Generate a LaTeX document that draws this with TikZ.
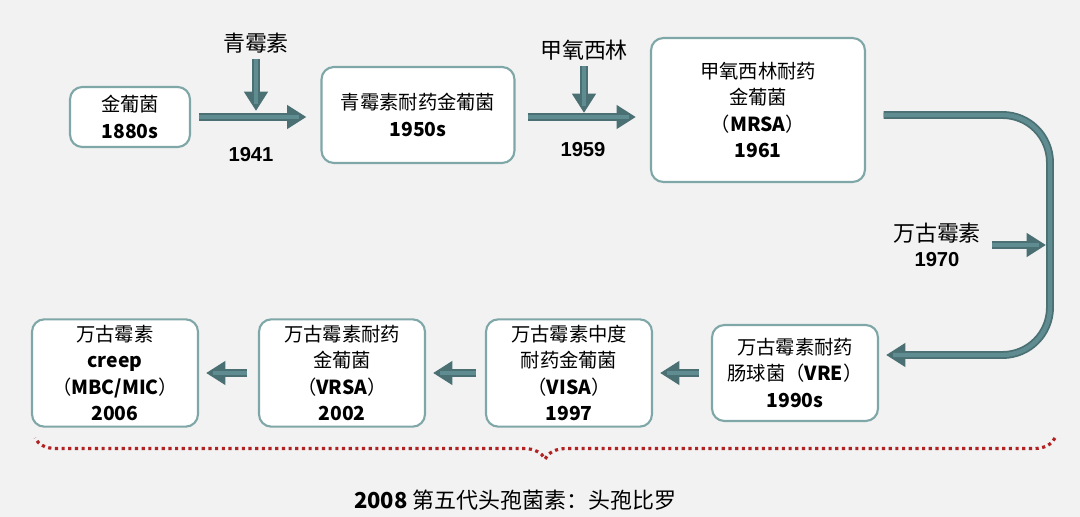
\documentclass[tikz,border=0pt]{standalone}
\usepackage{fontspec}
\setmainfont{Liberation Sans}
\newfontfamily\cjk{Noto Sans CJK SC}
\usetikzlibrary{arrows.meta,decorations.pathreplacing}
\definecolor{teal1}{HTML}{5E8C90}
\definecolor{edge1}{HTML}{7FA7A8}
\definecolor{bg1}{HTML}{F2F2F2}
\definecolor{brace1}{HTML}{B22222}
\tikzset{
  box/.style={draw=edge1,line width=1.2pt,rounded corners=7pt,fill=white,align=center,font=\cjk\fontsize{11}{15}\selectfont},
  lab/.style={align=center,font=\cjk\fontsize{12.5}{15}\selectfont},
  yr/.style={font=\bfseries\fontsize{11.5}{13}\selectfont},
  flow/.style={draw=teal1!80!black,line width=4.5pt,-{Triangle[length=11pt,width=13pt]},
    postaction={draw=teal1,line width=2.5pt,shorten >=4pt,-}},
}
\newcommand{\Y}[1]{{\bfseries #1}}
\begin{document}
\begin{tikzpicture}[x=0.02cm,y=-0.02cm]
  \fill[bg1] (0,0) rectangle (1080,517);
  \useasboundingbox (0,0) rectangle (1080,517);

  % top row
  \node[box,minimum width=2.4cm,minimum height=1.2cm] at (130,117) (jp) {金葡菌\\\Y{1880s}};
  \node[box,minimum width=3.86cm,minimum height=1.92cm] at (418,115) (qm) {青霉素耐药金葡菌\\\Y{1950s}};
  \node[box,minimum width=4.28cm,minimum height=2.88cm] at (758,110) (mrsa) {甲氧西林耐药\\金葡菌\\（\Y{MRSA}）\\\Y{1961}};

  % bottom row
  \node[box,minimum width=3.32cm,minimum height=1.92cm] at (795,373) (vre) {万古霉素耐药\\肠球菌（\Y{VRE}）\\\Y{1990s}};
  \node[box,minimum width=3.32cm,minimum height=1.92cm] at (569,373) (visa) {万古霉素中度\\耐药金葡菌\\（\Y{VISA}）\\\Y{1997}};
  \node[box,minimum width=3.32cm,minimum height=1.92cm] at (342,373) (vrsa) {万古霉素耐药\\金葡菌\\（\Y{VRSA}）\\\Y{2002}};
  \node[box,minimum width=3.32cm,minimum height=1.92cm] at (115,373) (creep) {万古霉素\\\Y{creep}\\（\Y{MBC/MIC}）\\\Y{2006}};

  % drug labels
  \node[lab] at (256,43) (pen) {青霉素};
  \node[lab] at (584,50) (met) {甲氧西林};
  \node[lab] at (937,233) (van) {万古霉素};
  \node[yr] at (251,155) (y41) {1941};
  \node[yr] at (583,150) (y59) {1959};
  \node[yr] at (937,260) (y70) {1970};

  \coordinate (p1) at (256,111);
  \coordinate (p2) at (584,113);
  \coordinate (v1) at (992,245);
  \coordinate (v2) at (1046,245);

  \draw[flow] (jp.east) ++(8,0) coordinate (a1) -- ([xshift=-8]qm.west |- a1);
  \draw[flow] (qm.east) ++(12,2) coordinate (a2) -- ([xshift=-8]mrsa.west |- a2);
  \draw[flow] (pen.south) -- (p1);
  \draw[flow] (met.south) -- (p2);
  \draw[flow] (v1) -- (v2);

  % big turn
  \draw[flow,rounded corners=0.95cm] ([xshift=10]mrsa.east |- 0,115) -- (1050,115)
     -- (1050,355) -- ([xshift=4]vre.east |- 0,355);

  \draw[flow] ([xshift=-7]vre.west) -- ([xshift=4]visa.east);
  \draw[flow] ([xshift=-5]visa.west) -- ([xshift=4]vrsa.east);
  \draw[flow] ([xshift=-6]vrsa.west) -- ([xshift=4]creep.east);

  % brace
  \coordinate (b1) at (1055,438);
  \coordinate (b2) at (35,438);
  \draw[brace1,line width=1.8pt,dotted,decorate,decoration={brace,amplitude=12pt}] (b1) -- (b2);
  \node[lab] at (515,500) (gen5) {\Y{2008} 第五代头孢菌素：头孢比罗};
\end{tikzpicture}
\end{document}
